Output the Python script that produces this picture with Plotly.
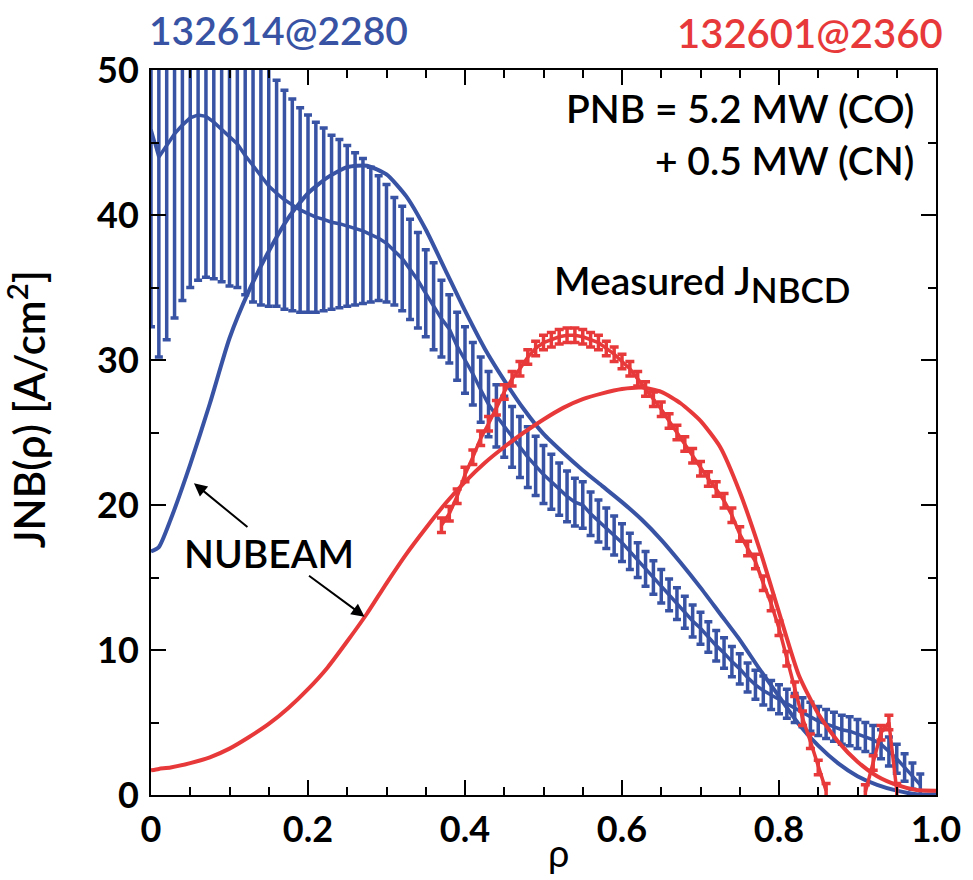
import plotly.graph_objects as go

# ---- data -------------------------------------------------------------
BLUE = "#3853a4"
RED = "#e8393a"

# measured J_NBCD, shot 132614 @ 2280 ms (rho step 0.01 from 0.00 to 0.98)
rho_meas_blue = [round(i * 0.01, 2) for i in range(99)]
j_meas_blue = [
    45.9, 44.0, 44.8, 45.6, 46.2, 46.7, 46.9, 46.8, 46.4, 45.9,
    45.4, 44.9, 44.1, 43.4, 42.7, 42.0, 41.5, 41.05, 40.7, 40.35,
    40.1, 39.85, 39.7, 39.5, 39.4, 39.25, 39.05, 38.9, 38.65, 38.4,
    38.05, 37.5, 37.0, 36.25, 35.5, 34.6, 33.7, 32.85, 32.15, 30.95,
    30.0, 29.05, 27.95, 26.95, 26.15, 25.4, 24.7, 24.0, 23.3, 22.7,
    22.1, 21.6, 21.1, 20.6, 20.2, 20.0, 19.4, 18.9, 18.4, 17.9,
    17.4, 16.8, 16.2, 15.6, 15.0, 14.4, 13.8, 13.2, 12.6, 12.0,
    11.5, 10.9, 10.3, 9.8, 9.2, 8.7, 8.1, 7.6, 7.2, 6.9,
    6.6, 6.3, 6.0, 5.7, 5.4, 5.1, 4.9, 4.7, 4.5, 4.4,
    4.2, 4.0, 3.8, 3.5, 3.0, 2.5, 1.9, 1.3, 0.7,
]
err_meas_blue = [
    13.6, 13.8, 13.4, 12.7, 12.1, 11.7, 11.4, 11.1, 10.8, 10.5,
    10.3, 9.9, 9.6, 9.4, 8.9, 8.3, 7.8, 7.55, 7.3, 7.05,
    6.8, 6.55, 6.3, 6.0, 5.8, 5.55, 5.25, 5.0, 4.65, 4.3,
    4.05, 3.7, 3.6, 3.45, 3.3, 3.0, 3.0, 2.65, 2.35, 2.35,
    2.3, 2.15, 2.25, 2.25, 2.15, 2.1, 2.1, 2.1, 2.1, 2.05,
    2.0, 1.9, 1.8, 1.75, 1.65, 1.6, 1.5, 1.45, 1.4, 1.35,
    1.3, 1.25, 1.2, 1.2, 1.15, 1.15, 1.1, 1.1, 1.1, 1.1,
    1.1, 1.05, 1.05, 1.05, 1.05, 1.05, 1.0, 1.0, 1.0, 1.0,
    1.0, 1.0, 1.0, 1.0, 1.0, 1.0, 1.0, 1.0, 1.0, 1.0,
    1.0, 1.0, 1.0, 1.0, 1.0, 1.0, 0.95, 0.9, 0.75,
]

# measured J_NBCD, shot 132601 @ 2360 ms (negative stretch left out)
rho_meas_red = [round(0.37 + i * 0.01, 2) for i in range(59)]
j_meas_red = [
    18.6, 19.4, 20.6, 22.1, 23.3, 24.6, 25.6, 26.7, 27.8, 28.7,
    29.4, 30.2, 30.8, 31.2, 31.4, 31.6, 31.7, 31.7, 31.6, 31.4,
    31.2, 30.8, 30.4, 29.9, 29.4, 28.7, 28.0, 27.3, 26.6, 25.8,
    25.0, 24.2, 23.4, 22.5, 21.8, 21.1, 20.3, 19.3, 18.0, 17.0,
    16.1, 14.6, 13.2, 11.5, 9.4, 7.3, 5.3, 3.7, 1.9, 0.3,
    None, None, None, None, 0.2, 2.2, 4.3, 5.0, 0.3,
]
err_meas_red = [0.5] * len(j_meas_red)

# NUBEAM profiles
rho_nubeam = [
    0.0, 0.01, 0.025, 0.05, 0.075, 0.1, 0.125, 0.15, 0.175, 0.2,
    0.225, 0.25, 0.275, 0.3, 0.325, 0.35, 0.375, 0.4, 0.425, 0.45,
    0.475, 0.5, 0.525, 0.55, 0.575, 0.6, 0.625, 0.65, 0.675, 0.7,
    0.725, 0.75, 0.775, 0.8, 0.825, 0.85, 0.875, 0.9, 0.925, 0.95,
    0.975, 1.0,
]
j_nubeam_blue = [
    16.8, 17.1, 19.0, 22.8, 27.0, 31.5, 34.8, 37.5, 39.8, 41.5,
    42.6, 43.3, 43.4, 42.8, 41.3, 39.0, 36.2, 33.4, 30.8, 28.6,
    26.6, 24.9, 23.6, 22.4, 21.3, 20.2, 19.0, 17.6, 16.0, 14.3,
    12.5, 10.7, 8.7, 6.8, 4.9, 3.4, 2.2, 1.3, 0.7, 0.3,
    0.05, 0.05,
]
j_nubeam_red = [
    1.7, 1.8, 1.9, 2.2, 2.6, 3.2, 4.0, 4.9, 6.0, 7.3,
    8.8, 10.6, 12.5, 14.6, 16.6, 18.4, 20.1, 21.6, 22.9, 24.0,
    25.0, 25.9, 26.7, 27.3, 27.7, 28.0, 28.1, 27.8, 27.0, 25.8,
    24.0, 20.9, 17.0, 12.6, 8.3, 5.6, 3.7, 2.3, 1.3, 0.7,
    0.35, 0.3,
]

x_tick_vals = [0, 0.2, 0.4, 0.6, 0.8, 1.0]
x_tick_text = ["0", "0.2", "0.4", "0.6", "0.8", "1.0"]
y_tick_vals = [0, 10, 20, 30, 40, 50]
y_tick_text = ["0", "10", "20", "30", "40", "50"]

shot_blue = "132614@2280"
shot_red = "132601@2360"
power_lines = ["PNB = 5.2 MW (CO)", "+ 0.5 MW (CN)"]
measured_label = "Measured J<sub><span style='font-size:35px'>NBCD</span></sub>"
model_label = "NUBEAM"
x_title = "ρ"
y_title = "JNB(ρ) [A/cm<sup>2</sup>]"

# ---- figure -----------------------------------------------------------
FONT = "Lato"
fig = go.Figure()

fig.add_trace(go.Scatter(
    x=rho_meas_blue, y=j_meas_blue, mode="lines",
    line=dict(color=BLUE, width=3.5),
    error_y=dict(type="data", array=err_meas_blue, visible=True,
                 color=BLUE, thickness=3.5, width=4),
))
fig.add_trace(go.Scatter(
    x=rho_nubeam, y=j_nubeam_blue, mode="lines",
    line=dict(color=BLUE, width=4, shape="spline", smoothing=0.6),
))
fig.add_trace(go.Scatter(
    x=rho_nubeam, y=j_nubeam_red, mode="lines",
    line=dict(color=RED, width=4, shape="spline", smoothing=0.6),
))
fig.add_trace(go.Scatter(
    x=rho_meas_red, y=j_meas_red, mode="lines", connectgaps=False,
    line=dict(color=RED, width=3.5),
    error_y=dict(type="data", array=err_meas_red, visible=True,
                 color=RED, thickness=3.5, width=4.5),
))

axis_common = dict(
    showline=True, linecolor="black", linewidth=2, mirror="ticks",
    ticks="inside", ticklen=15, tickwidth=2, tickcolor="black",
    showgrid=False, zeroline=False, ticklabeloverflow="allow",
    tickfont=dict(family=FONT, size=36, color="black", weight="bold"),
)
fig.update_xaxes(
    range=[0, 1], tickvals=x_tick_vals, ticktext=x_tick_text,
    minor=dict(ticks="inside", dtick=0.05, ticklen=8, tickwidth=2,
               tickcolor="black", showgrid=False),
    ticklabelstandoff=2,
    **axis_common,
)
fig.update_yaxes(
    range=[0, 50], tickvals=y_tick_vals, ticktext=y_tick_text,
    minor=dict(ticks="inside", dtick=5, ticklen=8, tickwidth=2,
               tickcolor="black", showgrid=False),
    ticklabelstandoff=3,
    **axis_common,
)

text_font = dict(family=FONT, size=39, color="black", weight=600)
ann = []
ann.append(dict(x=0.163, y=1.055, xref="paper", yref="paper", text=shot_blue,
                xanchor="center", yanchor="middle", showarrow=False,
                font=dict(family=FONT, size=39, color=BLUE, weight=600)))
ann.append(dict(x=0.840, y=1.051, xref="paper", yref="paper", text=shot_red,
                xanchor="center", yanchor="middle", showarrow=False,
                font=dict(family=FONT, size=40, color=RED, weight=600)))
ann.append(dict(x=0.975, y=47.4, xref="x", yref="y", text=power_lines[0],
                xanchor="right", yanchor="middle", showarrow=False, font=text_font))
ann.append(dict(x=0.975, y=43.8, xref="x", yref="y", text=power_lines[1],
                xanchor="right", yanchor="middle", showarrow=False, font=text_font))
ann.append(dict(x=0.511, y=35.3, xref="x", yref="y", text=measured_label,
                xanchor="left", yanchor="middle", showarrow=False, font=text_font))
ann.append(dict(x=0.150, y=16.7, xref="x", yref="y", text=model_label,
                xanchor="center", yanchor="middle", showarrow=False, font=text_font))
# arrows from the NUBEAM label to both model curves
ann.append(dict(x=0.0547, y=21.5, xref="x", yref="y", ax=55, ay=45,
                text="", showarrow=True, arrowhead=2, arrowsize=1.3,
                arrowwidth=2, arrowcolor="black"))
ann.append(dict(x=0.272, y=12.3, xref="x", yref="y", ax=-57, ay=-42,
                text="", showarrow=True, arrowhead=2, arrowsize=1.3,
                arrowwidth=2, arrowcolor="black"))
# axis titles
ann.append(dict(x=0.519, y=-0.079, xref="paper", yref="paper", text=x_title,
                showarrow=False, xanchor="center", yanchor="middle",
                font=dict(family=FONT, size=38, color="black")))
ann.append(dict(x=-0.158, y=0.532, xref="paper", yref="paper", text=y_title,
                showarrow=False, textangle=-90, xanchor="center", yanchor="middle",
                font=dict(family=FONT, size=42, color="black", weight=600)))

fig.update_layout(
    width=973, height=880,
    margin=dict(l=151, r=17, t=70, b=85),
    paper_bgcolor="white", plot_bgcolor="white",
    showlegend=False,
    annotations=ann,
)

fig.write_html("out.html")
